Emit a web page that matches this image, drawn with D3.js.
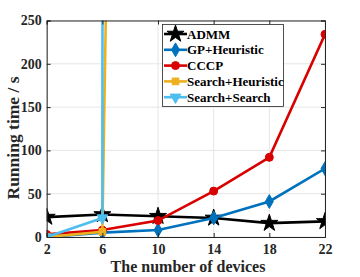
<!DOCTYPE html>
<html><head><meta charset="utf-8">
<script src="https://cdn.jsdelivr.net/npm/d3@7"></script>
<style>body{margin:0;background:#fff}svg{display:block}</style>
</head><body>
<svg id="c" width="360" height="277"></svg>
<script>
const devices = [2, 6, 10, 14, 18, 22];
const admm = [23, 26, 24, 22, 16, 18];
const gpHeuristic = [0, 5, 8, 22, 41, 79];
const cccp = [3, 8, 19, 53, 92, 234];
const searchHeuristic = [0, 6, 4000];
const searchSearch = [0, 22, 100000];
const xTicks = [2, 6, 10, 14, 18, 22];
const yTicks = [0, 50, 100, 150, 200, 250];
const seriesNames = ["ADMM", "GP+Heuristic", "CCCP", "Search+Heuristic", "Search+Search"];
const seriesColors = ["#000000", "#0072BD", "#D90000", "#EDB120", "#4DBEEE"];
const seriesValues = [admm, gpHeuristic, cccp, searchHeuristic, searchSearch];
const seriesMarkers = ["star", "diamond", "circle", "square", "triangle"];

const svg = d3.select("#c");
const L = 46.7, R = 325, T = 20.5, B = 237;
const x = d3.scaleLinear().domain([2, 22]).range([L, R]);
const y = d3.scaleLinear().domain([0, 250]).range([B, T]);
const font = "'Liberation Serif', 'Times New Roman', serif";

// grid
const g = svg.append("g");
g.selectAll(".gx").data(xTicks).join("line")
  .attr("x1", d => x(d)).attr("x2", d => x(d)).attr("y1", T).attr("y2", B)
  .attr("stroke", "#e6e6e6").attr("stroke-width", 1);
g.selectAll(".gy").data(yTicks).join("line")
  .attr("y1", d => y(d)).attr("y2", d => y(d)).attr("x1", L).attr("x2", R)
  .attr("stroke", "#e6e6e6").attr("stroke-width", 1);

// clip
svg.append("clipPath").attr("id", "clip").append("rect")
  .attr("x", L).attr("y", T).attr("width", R - L).attr("height", B - T);

const symbolMap = {
  star: d3.symbol().type(d3.symbolStar).size(90),
  diamond: d3.symbol().type(d3.symbolDiamond).size(55),
  circle: d3.symbol().type(d3.symbolCircle).size(50),
  square: d3.symbol().type(d3.symbolSquare).size(45),
  triangle: d3.symbol().type(d3.symbolTriangle).size(50)
};

const line = d3.line().x(d => x(d[0])).y(d => y(d[1]));
const plot = svg.append("g").attr("clip-path", "url(#clip)");
seriesValues.forEach((vals, i) => {
  const pts = vals.map((v, j) => [devices[j], v]);
  plot.append("path").datum(pts).attr("d", line)
    .attr("fill", "none").attr("stroke", seriesColors[i]).attr("stroke-width", 2.6);
  plot.selectAll(null).data(pts).join("path")
    .attr("d", symbolMap[seriesMarkers[i]])
    .attr("transform", d => `translate(${x(d[0])},${y(d[1])})` + (seriesMarkers[i] === "triangle" ? " rotate(180)" : ""))
    .attr("fill", seriesColors[i]).attr("stroke", seriesColors[i]);
});

// axes box
const ax = svg.append("g");
ax.append("g").attr("transform", `translate(0,${B})`)
  .call(d3.axisBottom(x).tickValues(xTicks).tickSize(-4).tickPadding(7).tickFormat(d3.format("d")));
ax.append("g").attr("transform", `translate(0,${T})`)
  .call(d3.axisTop(x).tickValues(xTicks).tickSize(-4).tickFormat(""));
ax.append("g").attr("transform", `translate(${L},0)`)
  .call(d3.axisLeft(y).tickValues(yTicks).tickSize(-4).tickPadding(5));
ax.append("g").attr("transform", `translate(${R},0)`)
  .call(d3.axisRight(y).tickValues(yTicks).tickSize(-4).tickFormat(""));
ax.selectAll(".domain").attr("stroke", "#262626").attr("stroke-width", 1);
ax.selectAll(".tick line").attr("stroke", "#262626");
ax.selectAll(".tick text").attr("font-family", font).attr("font-weight", "bold")
  .attr("font-size", 14).attr("fill", "#262626");

// labels
svg.append("text").attr("x", 188).attr("y", 272).attr("text-anchor", "middle")
  .attr("font-family", font).attr("font-weight", "bold").attr("font-size", 16).attr("fill", "#262626")
  .text("The number of devices");
svg.append("text").attr("transform", "translate(19,138) rotate(-90)").attr("text-anchor", "middle")
  .attr("font-family", font).attr("font-weight", "bold").attr("font-size", 17.5).attr("fill", "#262626")
  .text("Running time / s");

// legend
const lg = svg.append("g");
lg.append("rect").attr("x", 162.5).attr("y", 24.5).attr("width", 121).attr("height", 82)
  .attr("fill", "#fff").attr("stroke", "#262626").attr("stroke-width", 0.8);
seriesNames.forEach((name, i) => {
  const yy = 34 + i * 15.8;
  lg.append("line").attr("x1", 164).attr("x2", 187).attr("y1", yy).attr("y2", yy)
    .attr("stroke", seriesColors[i]).attr("stroke-width", 2.6);
  lg.append("path").attr("d", symbolMap[seriesMarkers[i]])
    .attr("transform", `translate(175.5,${yy})` + (seriesMarkers[i] === "triangle" ? " rotate(180)" : ""))
    .attr("fill", seriesColors[i]).attr("stroke", seriesColors[i]);
  lg.append("text").attr("x", 187).attr("y", yy + 4.5)
    .attr("font-family", font).attr("font-weight", "bold").attr("font-size", 13).attr("fill", "#000")
    .text(name);
});
</script>
</body></html>
